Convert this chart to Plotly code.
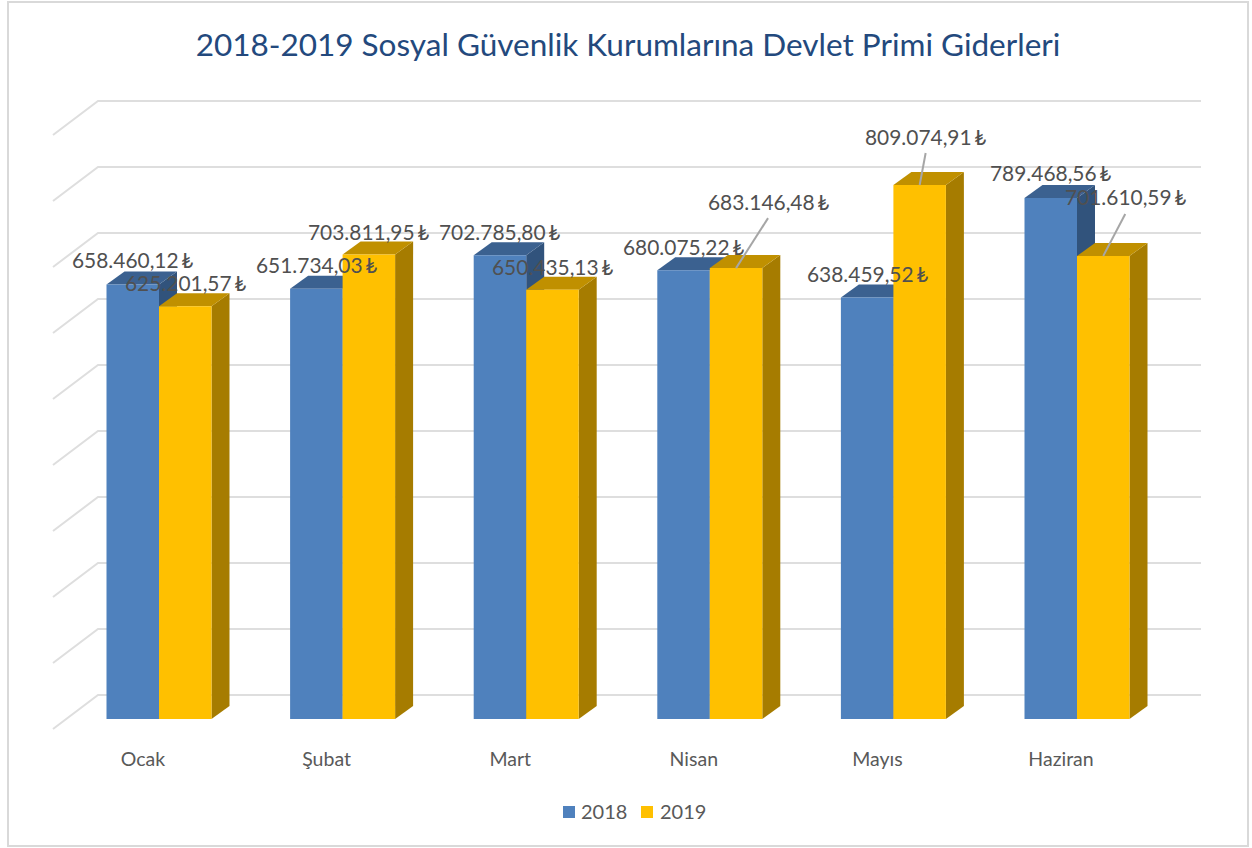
import plotly.graph_objects as go

# ---- data ----
MONTHS = ["Ocak", "Şubat", "Mart", "Nisan", "Mayıs", "Haziran"]
VALUES_2018 = [658460.12, 651734.03, 702785.80, 680075.22, 638459.52, 789468.56]
VALUES_2019 = [625201.57, 703811.95, 650435.13, 683146.48, 809074.91, 701610.59]
GRID_VALUES = [0, 100000, 200000, 300000, 400000, 500000, 600000, 700000, 800000, 900000]
TITLE = "2018-2019 Sosyal Güvenlik Kurumlarına Devlet Primi Giderleri"

# label offsets from the top-centre of each bar's front face (px)
OFFSETS_2018 = [(0, 24), (0, 23), (0, 23), (0, 23), (0, 23), (0, 24)]
OFFSETS_2019 = [(0, 23), (0, 22), (0, 22), (32, 66), (6, 48), (22, 58)]
LEADERS_2019 = [False, False, False, True, True, True]

# ---- geometry: pixel <-> data scale ----
W, H = 1252, 848
PLOT_BOTTOM = 740
X0_PX, X_STEP = 159.0, 183.6
BASE_PX, Y_K = 719.0, 0.00066
BAR_W_PX = 52.5
DEPTH_X, DEPTH_Y = 18, 13
BACK_Y_PX = 24      # back wall floor above bar base
FRONT_Y_PX = -10    # front edge of the floor below bar base
WALL_L, WALL_R, FLOOR_L = 98, 1201, 53

dxu = lambda px: px / X_STEP
dyu = lambda px: px / Y_K
xpx = lambda px: (px - X0_PX) / X_STEP
xrange_ = [xpx(0), xpx(W)]
yrange_ = [dyu(BASE_PX - PLOT_BOTTOM), dyu(BASE_PX)]
paper_y = lambda py: (PLOT_BOTTOM - py) / PLOT_BOTTOM

BLUE, BLUE_TOP, BLUE_SIDE = "#4F81BD", "#3B6190", "#31537C"
YEL, YEL_TOP, YEL_SIDE = "#FFC000", "#C09000", "#A67C00"
GRID = "#DEDEDE"
TXT = "#595959"
FONT = "Lato"

fig = go.Figure()

# gridlines on wall + side wall
gx, gy = [], []
for v in GRID_VALUES:
    gx += [xpx(FLOOR_L), xpx(WALL_L), xpx(WALL_R), None]
    gy += [v + dyu(FRONT_Y_PX), v + dyu(BACK_Y_PX), v + dyu(BACK_Y_PX), None]
fig.add_trace(go.Scatter(x=gx, y=gy, mode="lines", line=dict(color=GRID, width=2),
                         showlegend=False, hoverinfo="skip"))


def faces(values, left_px_off, top_col, side_col):
    """Depth faces of the bars, from each value."""
    bw = dxu(BAR_W_PX)
    for i, v in enumerate(values):
        l = i + dxu(left_px_off)
        r = l + bw
        dx, dy = dxu(DEPTH_X), dyu(DEPTH_Y)
        fig.add_trace(go.Scatter(x=[r, r + dx, r + dx, r, r], y=[0, dy, v + dy, v, 0],
                                 mode="lines", fill="toself", fillcolor=side_col,
                                 line=dict(width=0), showlegend=False, hoverinfo="skip"))
        fig.add_trace(go.Scatter(x=[l, l + dx, r + dx, r, l], y=[v, v + dy, v + dy, v, v],
                                 mode="lines", fill="toself", fillcolor=top_col,
                                 line=dict(width=0), showlegend=False, hoverinfo="skip"))


faces(VALUES_2018, -BAR_W_PX, BLUE_TOP, BLUE_SIDE)
faces(VALUES_2019, 0, YEL_TOP, YEL_SIDE)

# front faces: real bars on an overlaying subplot
fig.add_trace(go.Bar(x=list(range(6)), y=VALUES_2018, name="2018", marker=dict(color=BLUE, line=dict(width=0)),
                     xaxis="x2", yaxis="y2", showlegend=False))
fig.add_trace(go.Bar(x=list(range(6)), y=VALUES_2019, name="2019", marker=dict(color=YEL, line=dict(width=0)),
                     xaxis="x2", yaxis="y2", showlegend=False))


def turkish(v):
    return f"{v:,.2f}".replace(",", "#").replace(".", ",").replace("#", ".") + "\u2009₺"


annots = []
half = dxu(BAR_W_PX) / 2
for vals, offs, sign in ((VALUES_2018, OFFSETS_2018, -1), (VALUES_2019, OFFSETS_2019, 1)):
    for i, (v, (ox, oy)) in enumerate(zip(vals, offs)):
        annots.append(dict(x=i + sign * half, y=v, xref="x2", yref="y2", text=turkish(v), showarrow=False,
                           xshift=ox, yshift=oy + 1, xanchor="center", yanchor="middle",
                           font=dict(family=FONT, size=20.9, color="#505050")))

# leader lines
for i, (v, (ox, oy), on) in enumerate(zip(VALUES_2019, OFFSETS_2019, LEADERS_2019)):
    if on:
        fig.add_trace(go.Scatter(x=[i + half, i + half + dxu(ox)], y=[v, v + dyu(oy - 16)],
                                 mode="lines", line=dict(color="#A6A6A6", width=2),
                                 xaxis="x2", yaxis="y2", showlegend=False, hoverinfo="skip"))

# legend keys and their text
shapes = [dict(type="rect", xref="paper", yref="paper",
               x0=8 / W, x1=1248 / W, y0=paper_y(846), y1=paper_y(2),
               line=dict(color="#D9D9D9", width=2), layer="below")]
for name, colour, key_x, text_x in (("2018", BLUE, 563, 580), ("2019", YEL, 641, 659)):
    shapes.append(dict(type="rect", xref="paper", yref="paper",
                       x0=key_x / W, x1=(key_x + 12) / W, y0=paper_y(818), y1=paper_y(806),
                       fillcolor=colour, line=dict(width=0)))
    annots.append(dict(x=text_x / W, y=paper_y(811), xref="paper", yref="paper", text=name, showarrow=False,
                       xanchor="left", yanchor="middle", xshift=-1, font=dict(family=FONT, size=20, color=TXT)))

fig.update_layout(
    width=W, height=H, autosize=False,
    margin=dict(l=0, r=0, t=0, b=H - PLOT_BOTTOM, pad=0),
    paper_bgcolor="white", plot_bgcolor="white",
    barmode="group", bargap=1 - 2 * BAR_W_PX / X_STEP, bargroupgap=0,
    title=dict(text=TITLE, x=628 / W, y=1 - 45 / H, xanchor="center", yanchor="middle",
               font=dict(family=FONT, size=31.5, color="#23497D")),
    xaxis=dict(range=xrange_, showgrid=False, zeroline=False, showline=False,
               tickmode="array", tickvals=[i - dxu(16) for i in range(6)], ticktext=MONTHS,
               ticks="outside", ticklen=2, tickcolor="rgba(0,0,0,0)",
               tickfont=dict(family=FONT, size=19.5, color=TXT)),
    yaxis=dict(range=yrange_, visible=False),
    xaxis2=dict(range=xrange_, overlaying="x", visible=False),
    yaxis2=dict(range=yrange_, overlaying="y", visible=False),
    showlegend=False,
    annotations=annots,
    shapes=shapes,
)

fig.write_html("out.html", post_script="document.body.style.margin='0';", config={"displayModeBar": False})
